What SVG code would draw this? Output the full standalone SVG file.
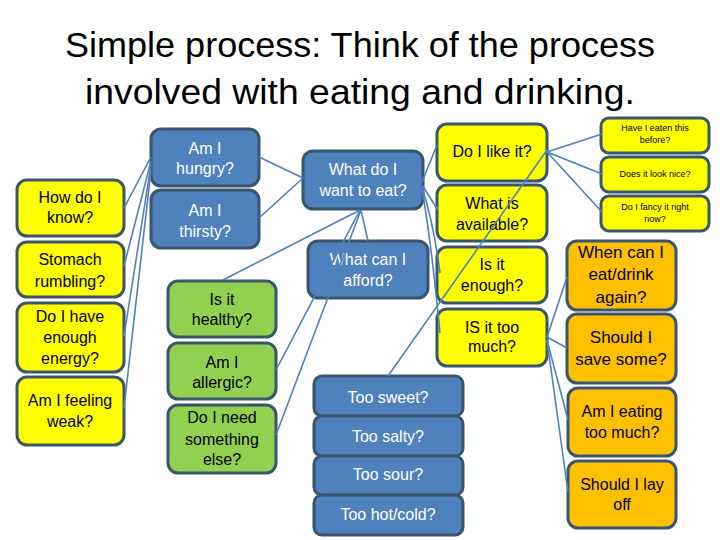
<svg xmlns="http://www.w3.org/2000/svg" width="720" height="540" viewBox="0 0 720 540">
<style>
.t{font-family:"Liberation Sans",Arial,sans-serif;text-anchor:middle;font-size:16px;fill:#000}
.w{fill:#fff}
.s{font-size:9px}
.o{font-size:17px}
.b rect{fill:#4f81bd}
.y rect{fill:#ffff00}
.g rect{fill:#92d050}
.r rect{fill:#ffc000}
g rect{stroke:#3a566e;stroke-width:3}
#connectors path{fill:none;stroke:#4f81bd;stroke-width:1.6}
.title{font-family:"Liberation Sans",Arial,sans-serif;font-size:35px;fill:#000;text-anchor:middle}
</style>
<rect x="0" y="0" width="720" height="540" fill="#fff"/>
<text class="title" x="360" y="57" textLength="590" lengthAdjust="spacingAndGlyphs">Simple process: Think of the process</text>
<text class="title" x="360" y="104" textLength="550" lengthAdjust="spacingAndGlyphs">involved with eating and drinking.</text>

<g id="n-how" class="y"><rect x="17" y="180" width="107" height="56" rx="10"/><text class="t" x="70" y="203">How do I</text><text class="t" x="70" y="223">know?</text></g>
<g id="n-stomach" class="y"><rect x="17" y="242" width="107" height="55" rx="10"/><text class="t" x="70" y="265">Stomach</text><text class="t" x="70" y="287">rumbling?</text></g>
<g id="n-energy" class="y"><rect x="17" y="303" width="107" height="69" rx="10"/><text class="t" x="70" y="322">Do I have</text><text class="t" x="70" y="343">enough</text><text class="t" x="70" y="364">energy?</text></g>
<g id="n-weak" class="y"><rect x="17" y="377" width="107" height="68" rx="10"/><text class="t" x="70" y="406">Am I feeling</text><text class="t" x="70" y="427">weak?</text></g>

<g id="n-hungry" class="b"><rect x="151" y="129" width="108" height="57" rx="10"/><text class="t w" x="205" y="154">Am I</text><text class="t w" x="205" y="174">hungry?</text></g>
<g id="n-thirsty" class="b"><rect x="151" y="190" width="108" height="58" rx="10"/><text class="t w" x="205" y="216">Am I</text><text class="t w" x="205" y="237">thirsty?</text></g>

<g id="n-healthy" class="g"><rect x="168" y="281" width="108" height="56" rx="10"/><text class="t" x="222" y="305">Is it</text><text class="t" x="222" y="325">healthy?</text></g>
<g id="n-allergic" class="g"><rect x="168" y="343" width="108" height="56" rx="10"/><text class="t" x="222" y="368">Am I</text><text class="t" x="222" y="388">allergic?</text></g>
<g id="n-else" class="g"><rect x="168" y="405" width="108" height="68" rx="10"/><text class="t" x="222" y="423">Do I need</text><text class="t" x="222" y="445">something</text><text class="t" x="222" y="465">else?</text></g>

<g id="n-want" class="b"><rect x="303" y="151" width="120" height="58" rx="10"/><text class="t w" x="363" y="175">What do I</text><text class="t w" x="363" y="196">want to eat?</text></g>
<g id="n-afford" class="b"><rect x="308" y="241" width="120" height="57" rx="10"/><text class="t w" x="368" y="265">What can I</text><text class="t w" x="368" y="286">afford?</text></g>

<g id="n-like" class="y"><rect x="437" y="124" width="110" height="57" rx="10"/><text class="t" x="492" y="157">Do I like it?</text></g>
<g id="n-available" class="y"><rect x="437" y="185" width="110" height="56" rx="10"/><text class="t" x="492" y="209">What is</text><text class="t" x="492" y="230">available?</text></g>
<g id="n-enough" class="y"><rect x="437" y="247" width="110" height="56" rx="10"/><text class="t" x="492" y="270">Is it</text><text class="t" x="492" y="291">enough?</text></g>
<g id="n-toomuch" class="y"><rect x="437" y="309" width="110" height="57" rx="10"/><text class="t" x="492" y="333">IS it too</text><text class="t" x="492" y="352">much?</text></g>

<g id="n-eaten" class="y"><rect x="601" y="118" width="108" height="35" rx="8"/><text class="t s" x="655" y="131">Have I eaten this</text><text class="t s" x="655" y="143">before?</text></g>
<g id="n-nice" class="y"><rect x="601" y="157" width="108" height="35" rx="8"/><text class="t s" x="655" y="177">Does it look nice?</text></g>
<g id="n-fancy" class="y"><rect x="601" y="196" width="108" height="35" rx="8"/><text class="t s" x="655" y="210">Do I fancy it right</text><text class="t s" x="655" y="222">now?</text></g>

<g id="n-when" class="r"><rect x="567" y="241" width="109" height="69" rx="10"/><text class="t o" x="621" y="258">When can I</text><text class="t o" x="621" y="280">eat/drink</text><text class="t o" x="621" y="303">again?</text></g>
<g id="n-save" class="r"><rect x="567" y="314" width="109" height="69" rx="10"/><text class="t o" x="621" y="343">Should I</text><text class="t o" x="621" y="365">save some?</text></g>
<g id="n-eating" class="r"><rect x="568" y="388" width="108" height="68" rx="10"/><text class="t" x="622" y="417">Am I eating</text><text class="t" x="622" y="438">too much?</text></g>
<g id="n-layoff" class="r"><rect x="568" y="461" width="108" height="67" rx="10"/><text class="t" x="622" y="490">Should I lay</text><text class="t" x="622" y="510">off</text></g>

<g id="n-sweet" class="b"><rect x="314" y="376" width="149" height="40" rx="8"/><text class="t w" x="388" y="403">Too sweet?</text></g>
<g id="n-salty" class="b"><rect x="314" y="416" width="149" height="40" rx="8"/><text class="t w" x="388" y="442">Too salty?</text></g>
<g id="n-sour" class="b"><rect x="314" y="456" width="149" height="39" rx="8"/><text class="t w" x="388" y="480">Too sour?</text></g>
<g id="n-hotcold" class="b"><rect x="314" y="495" width="149" height="40" rx="8"/><text class="t w" x="388" y="520">Too hot/cold?</text></g>

<g id="connectors">
<path d="M151 157 L124 208"/>
<path d="M151 161 L124 266"/>
<path d="M151 165 L124 336"/>
<path d="M151 170 L124 408"/>
<path d="M259 157 L303 178"/>
<path d="M259 218 L303 178"/>
<path d="M360 210 L223 280"/>
<path d="M360 210 L276 370"/>
<path d="M361 210 L276 435"/>
<path d="M361 210 L368 241"/>
<path d="M422 182 L437 145"/>
<path d="M422 185 L438 210"/>
<path d="M422 187 Q434 225 440 273"/>
<path d="M422 189 Q431 240 440 333"/>
<path d="M388 376 L547 150"/>
<path d="M547 152 L602 134"/>
<path d="M547 152 L602 174"/>
<path d="M547 152 L602 212"/>
<path d="M547 337 L567 277"/>
<path d="M547 337 L567 348"/>
<path d="M547 340 L568 420"/>
<path d="M547 340 L568 492"/>
</g>
</svg>
